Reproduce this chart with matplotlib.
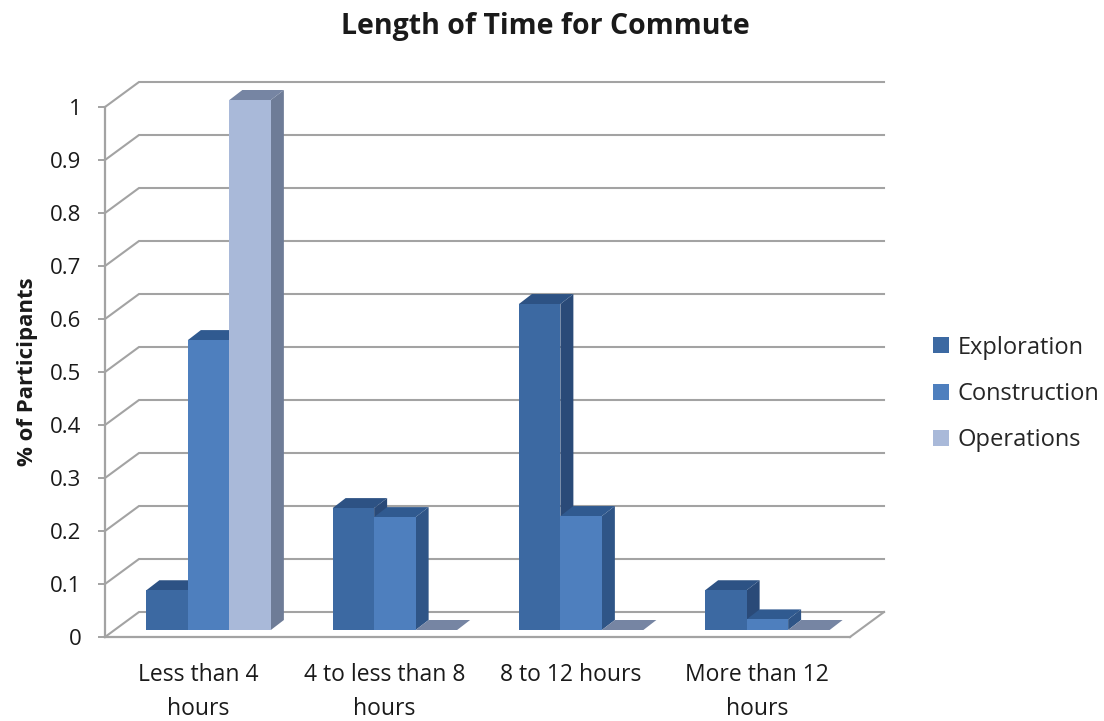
import matplotlib
matplotlib.use("Agg")
import matplotlib.pyplot as plt
from matplotlib.patches import Polygon

categories = ["Less than 4\nhours", "4 to less than 8\nhours", "8 to 12 hours", "More than 12\nhours"]
exploration = [0.075, 0.23, 0.615, 0.075]
construction = [0.547, 0.213, 0.215, 0.02]
operations = [1.0, 0.0, 0.0, 0.0]
y_ticks = [0, 0.1, 0.2, 0.3, 0.4, 0.5, 0.6, 0.7, 0.8, 0.9, 1]
y_labels = ["0", "0.1", "0.2", "0.3", "0.4", "0.5", "0.6", "0.7", "0.8", "0.9", "1"]

W, H = 1104, 721
PX_X = 745 / 4      # pixels per category
PX_Y = 530          # pixels per 1.0
FONT = "Open Sans"
GRID = "#a3a3a3"

# fake 3D offsets, in data units
wall_dx, wall_dy = 34 / PX_X, 25 / PX_Y
base_dx, base_dy = 10.5 / PX_X, 7 / PX_Y
bar_dx, bar_dy = 13 / PX_X, 10 / PX_Y
bar_w = 41.5 / PX_X

series = [
    ("Exploration", exploration, "#3c69a2", "#2a4a78", "#2d5284"),
    ("Construction", construction, "#4e7fbe", "#2f5587", "#305a90"),
    ("Operations", operations, "#a9b9d9", "#6e7c97", "#7685a3"),
]

fig = plt.figure(figsize=(W / 100, H / 100), dpi=100)
ax = fig.add_axes([105 / W, 1 - 637 / H, 745 / W, 530 / H])
ax.set_xlim(0, 4)
ax.set_ylim(0, 1)
ax.patch.set_visible(False)

for s in ["top", "right"]:
    ax.spines[s].set_visible(False)
for s in ["left", "bottom"]:
    ax.spines[s].set_color(GRID)
    ax.spines[s].set_linewidth(1.6)

# back wall lines and floor
for v in y_ticks:
    ax.plot([0, wall_dx, 4 + wall_dx], [v, v + wall_dy, v + wall_dy],
            color=GRID, lw=1.5, clip_on=False, zorder=1, solid_joinstyle="miter")
ax.plot([4, 4 + wall_dx], [0, wall_dy], color=GRID, lw=1.5, clip_on=False, zorder=1)

# bars: left to right so later fronts cover earlier sides
z = 2
handles = [None] * len(series)
for i in range(len(categories)):
    for j, (name, vals, front, side, top) in enumerate(series):
        x0 = i + 0.5 + base_dx + (j - 1.5) * bar_w
        x1 = x0 + bar_w
        y0 = base_dy
        y1 = base_dy + vals[i]
        if vals[i] > 0:
            ax.add_patch(Polygon([(x1, y0), (x1 + bar_dx, y0 + bar_dy), (x1 + bar_dx, y1 + bar_dy), (x1, y1)],
                                 facecolor=side, edgecolor="none", clip_on=False, zorder=z))
        ax.add_patch(Polygon([(x0, y1), (x0 + bar_dx, y1 + bar_dy), (x1 + bar_dx, y1 + bar_dy), (x1, y1)],
                             facecolor=top, edgecolor="none", clip_on=False, zorder=z))
        b = ax.bar(x0, vals[i], width=bar_w, bottom=base_dy, align="edge", color=front,
                   clip_on=False, zorder=z + 0.5)
        if i == 0:
            handles[j] = b
        z += 1

ax.set_yticks(y_ticks)
ax.set_yticklabels(y_labels, fontsize=16, family=FONT, color="#1a1a1a")
ax.tick_params(axis="y", length=5, width=1.4, color=GRID, pad=12)
ax.set_xticks([i + 0.5 for i in range(len(categories))])
ax.set_xticklabels(categories, fontsize=16.5, family=FONT, color="#1a1a1a", linespacing=1.56)
ax.tick_params(axis="x", length=0, pad=19)
ax.set_ylabel("% of Participants", fontsize=16, family=FONT, fontweight="bold", color="#1a1a1a", labelpad=9)

fig.text(545 / W, 1 - 26.5 / H, "Length of Time for Commute", ha="center", va="center",
         fontsize=20.5, family=FONT, fontweight="bold", color="#1a1a1a")

ax.legend(handles=handles, labels=[s[0] for s in series], loc="center left",
          bbox_to_anchor=(924 / W, 1 - 394 / H), bbox_transform=fig.transFigure, frameon=False,
          prop={"family": FONT, "size": 17}, labelspacing=0.95, handlelength=0.65,
          handleheight=0.65, handletextpad=0.36, labelcolor="#262626", borderaxespad=0)

fig.savefig("out.png", dpi=100)
